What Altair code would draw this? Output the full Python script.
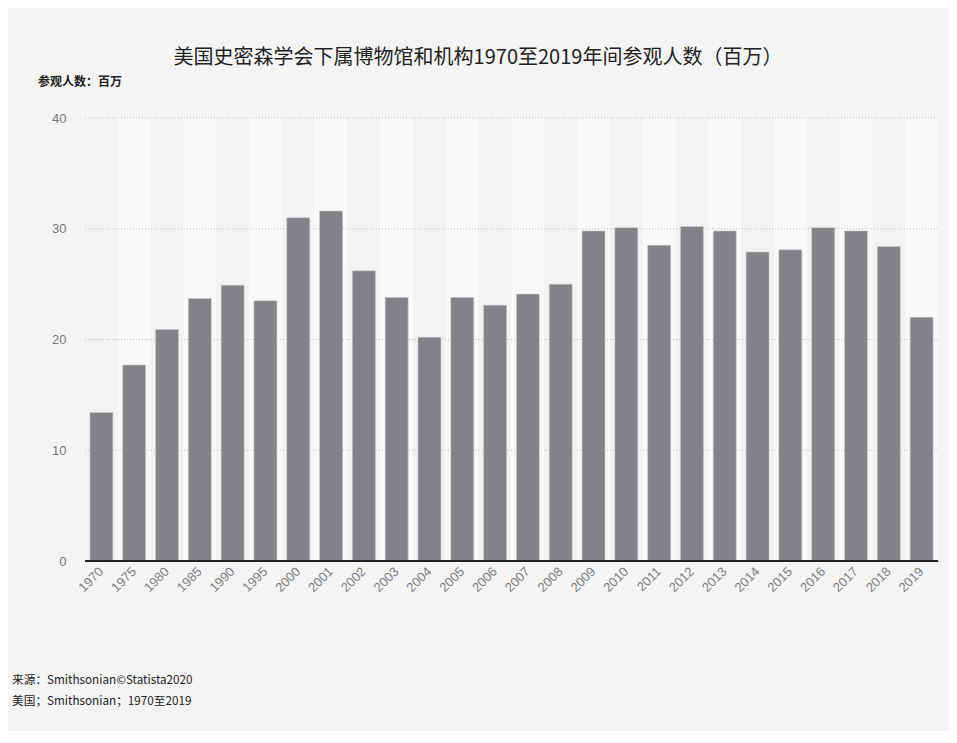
import altair as alt
import pandas as pd

years = ["1970", "1975", "1980", "1985", "1990", "1995", "2000", "2001", "2002", "2003",
         "2004", "2005", "2006", "2007", "2008", "2009", "2010", "2011", "2012", "2013",
         "2014", "2015", "2016", "2017", "2018", "2019"]
visitors = [13.4, 17.7, 20.9, 23.7, 24.9, 23.5, 31.0, 31.6, 26.2, 23.8,
            20.2, 23.8, 23.1, 24.1, 25.0, 29.8, 30.1, 28.5, 30.2, 29.8,
            27.9, 28.1, 30.1, 29.8, 28.4, 22.0]
y_ticks = [0, 10, 20, 30, 40]

title_text = "美国史密森学会下属博物馆和机构1970至2019年间参观人数（百万）"
subtitle_text = "参观人数：百万"
footer_lines = ["来源：Smithsonian©Statista2020", "美国；Smithsonian；1970至2019"]

df = pd.DataFrame({"year": years, "visitors": visitors,
                   "odd": [i % 2 for i in range(len(years))],
                   "top": [40] * len(years), "bottom": [0] * len(years)})
grid_df = pd.DataFrame({"v": y_ticks[1:]})

FONT = "Noto Sans CJK SC"
AXFONT = "Liberation Sans"
W, H = 853, 443

xscale = alt.Scale(paddingInner=0, paddingOuter=0)
xaxis = alt.Axis(title=None, labelAngle=-45, labelColor="#808080", labelFontSize=13,
                 labelFont=AXFONT, ticks=False, domain=True, domainColor="#222222",
                 domainWidth=1.2, labelPadding=8, labelAlign="right",
                 labelBaseline="middle")
yscale = alt.Scale(domain=[0, 40], nice=False)
yaxis = alt.Axis(title=None, values=y_ticks, labelColor="#777777", labelFontSize=13,
                 labelFont=AXFONT, ticks=False, domain=False, grid=False, labelPadding=19)

bands = alt.Chart(df).mark_bar().encode(
    x=alt.X("year:N", sort=years, scale=xscale, axis=xaxis),
    y=alt.Y("top:Q", scale=yscale, axis=yaxis),
    y2="bottom:Q",
    color=alt.condition("datum.odd == 1", alt.value("#f9f9f9"), alt.value("#f3f3f3")),
)

grid = alt.Chart(grid_df).mark_rule(color="#bdbdbd", strokeDash=[1, 2], strokeWidth=1).encode(
    y=alt.Y("v:Q", scale=yscale, axis=yaxis),
)

bars = alt.Chart(df).mark_bar(width=alt.RelativeBandSize(0.7), color="#838387",
                              stroke="#c9c9cb", strokeWidth=0.6).encode(
    x=alt.X("year:N", sort=years, scale=xscale, axis=xaxis),
    y=alt.Y("visitors:Q", scale=yscale, axis=yaxis),
)

zero = alt.Chart(df).mark_rule(color="#222222", strokeWidth=1.2).encode(
    y=alt.Y("bottom:Q", scale=yscale, axis=yaxis),
)

title = alt.Chart(pd.DataFrame({"t": [title_text]})).mark_text(
    font=FONT, fontSize=20, color="#222222", align="center", baseline="middle"
).encode(text="t:N", x=alt.value(393), y=alt.value(-60))

subtitle = alt.Chart(pd.DataFrame({"t": [subtitle_text]})).mark_text(
    font=FONT, fontSize=12, fontWeight="bold", color="#222222", align="left", baseline="middle"
).encode(text="t:N", x=alt.value(-47), y=alt.value(-36))

footer1 = alt.Chart(pd.DataFrame({"t": [footer_lines[0]]})).mark_text(
    font=FONT, fontSize=11.7, color="#222222", align="left", baseline="middle"
).encode(text="t:N", x=alt.value(-73), y=alt.value(562))

footer2 = alt.Chart(pd.DataFrame({"t": [footer_lines[1]]})).mark_text(
    font=FONT, fontSize=11.7, color="#222222", align="left", baseline="middle"
).encode(text="t:N", x=alt.value(-73), y=alt.value(583))

chart = alt.layer(bands, grid, bars, zero, title, subtitle, footer1, footer2).resolve_scale(
    y="shared", x="shared"
).properties(
    width=W, height=H,
    autosize=alt.AutoSizeParams(type="none"),
    padding={"left": 77, "top": 110, "right": 11, "bottom": 170},
    background="#f4f4f4",
).configure_view(stroke=None)

chart.save("out.html", embed_options={"renderer": "svg", "actions": False})
